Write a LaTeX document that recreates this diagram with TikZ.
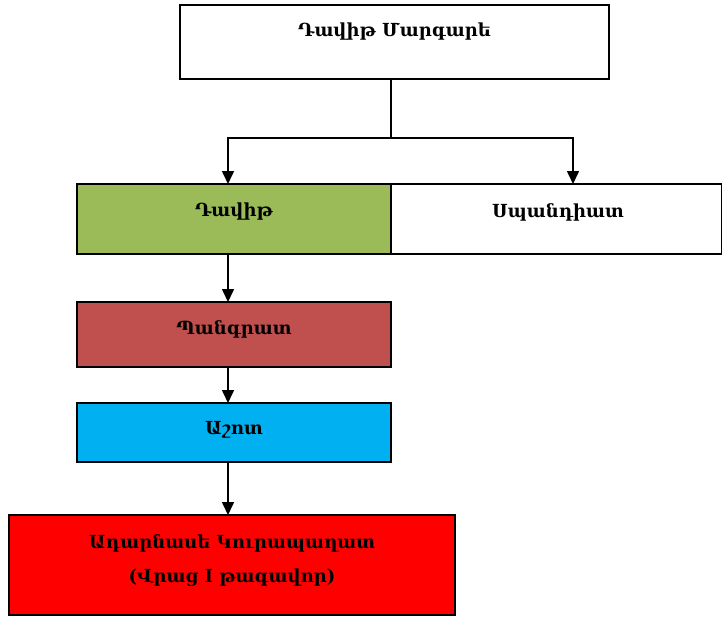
\documentclass[tikz,border=0pt]{standalone}
\usepackage{fontspec}
\setmainfont{DejaVu Serif}
\usetikzlibrary{arrows.meta}
\definecolor{boxgreen}{HTML}{9BBB59}
\definecolor{boxbrown}{HTML}{C0504D}
\definecolor{boxblue}{HTML}{00B0F0}
\definecolor{boxred}{HTML}{FF0000}
\begin{document}
\begin{tikzpicture}[x=1pt,y=-1pt,
  box/.style={draw=black,line width=1.5pt},
  lbl/.style={inner sep=0pt,font=\fontsize{18}{34}\selectfont\bfseries},
  link/.style={line width=1.6pt,-{Triangle[length=13pt,width=12pt]}}]
\useasboundingbox (0,0) rectangle (722,616);
% boxes
\path[box,fill=white] (180,5) rectangle (609,79);
\node[lbl] (prophet) at (394.5,32) {Դավիթ Մարգարե};

\path[box,fill=boxgreen] (77,184) rectangle (391,254);
\node[lbl] (david) at (234,212) {Դավիթ};
\path[box,fill=white] (391,184) rectangle (721.3,254);
\node[lbl] (spand) at (558,212) {Սպանդիատ};

\path[box,fill=boxbrown] (77,302) rectangle (391,367);
\node[lbl] (pangrat) at (234,329) {Պանգրատ};

\path[box,fill=boxblue] (77,403) rectangle (391,462);
\node[lbl] (ashot) at (234,430) {Աշոտ};

\path[box,fill=boxred] (9,515) rectangle (455,615);
\node[lbl,align=center] (adarnase) at (232,561) {Ադարնասե Կուրապաղատ\\(Վրաց I թագավոր)};

% connectors
\coordinate (split) at (391,138);
\coordinate (dtop) at (228,184);
\coordinate (stop) at (573,184);
\draw[line width=1.6pt] (391,79) -- (split);
\draw[link] (split) -| (dtop);
\draw[link] (split) -| (stop);
\draw[link] (228,254) -- (228,302);
\draw[link] (228,367) -- (228,403);
\draw[link] (228,462) -- (228,515);
\end{tikzpicture}
\end{document}
